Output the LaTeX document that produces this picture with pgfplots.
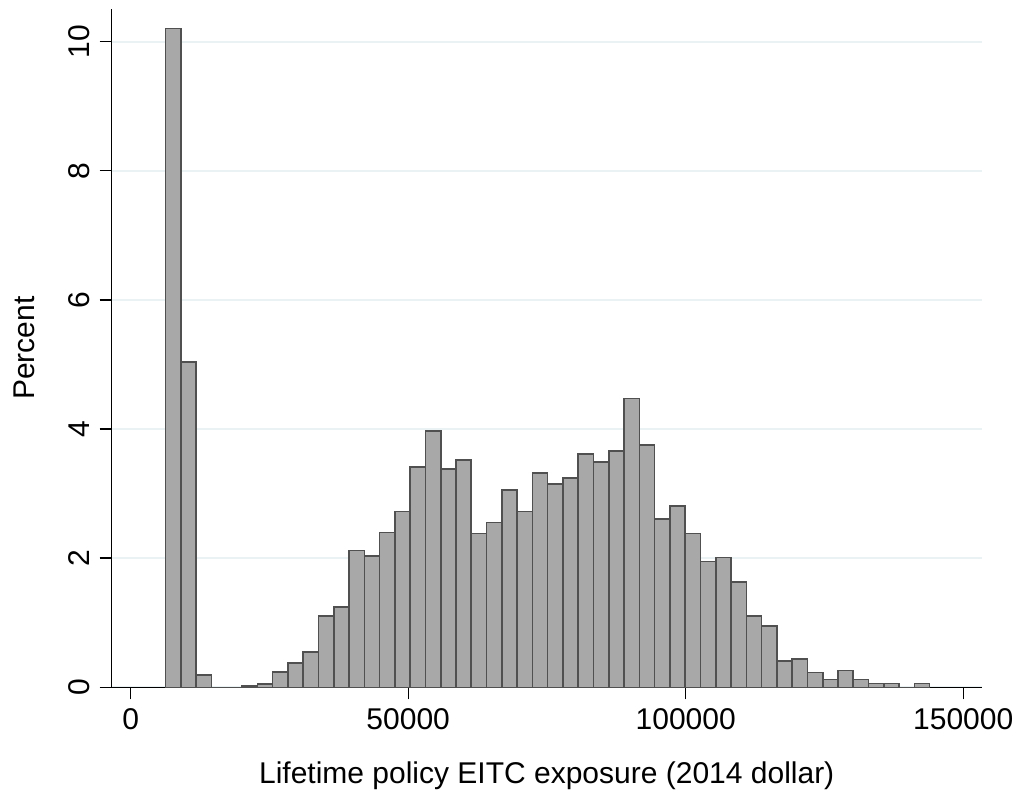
\documentclass[border=0pt]{standalone}
\usepackage{fontspec}
\setmainfont{Liberation Sans}
\usepackage{pgfplots}
\pgfplotsset{compat=1.18}
\definecolor{barfill}{RGB}{168,168,168}
\definecolor{baredge}{RGB}{80,80,80}
\definecolor{gridc}{RGB}{234,242,243}
\begin{document}
\begin{tikzpicture}
\useasboundingbox (-55.85pt,-52.35pt) rectangle (454.65pt,343.65pt);
\begin{axis}[
  at={(0pt,0pt)}, anchor=south west,
  scale only axis, width=435pt, height=339pt,
  xmin=-3423, xmax=153333, ymin=0, ymax=10.5,
  axis x line*=bottom, axis y line*=left,
  axis line style={-, line width=0.7pt, black},
  scaled x ticks=false, scaled y ticks=false,
  xtick={0,50000,100000,150000}, xticklabels={0,50000,100000,150000},
  ytick={0,2,4,6,8,10}, yticklabels={0,2,4,6,8,10},
  tick align=outside, major tick length=6pt,
  tick style={line width=0.7pt, black},
  ymajorgrids, grid style={gridc, line width=1pt},
  font=\fontsize{15}{18}\selectfont,
  yticklabel style={rotate=90, anchor=base},
  yticklabel shift=5pt,
  xticklabel style={anchor=north},
  xticklabel shift=1pt,
  xlabel={Lifetime policy EITC exposure (2014 dollar)},
  ylabel={Percent},
  every axis x label/.style={at={(axis description cs:0.5,-0.1412)}, anchor=base},
  every axis y label/.style={at={(axis description cs:-0.0893,0.5)}, rotate=90, anchor=base},
]
\addplot[ybar interval, fill=barfill, draw=baredge, line width=0.8pt] coordinates {
(6306,10.20) (9059,5.04) (11812,0.19) (14565,0) (17318,0) (20071,0.02)
(22824,0.05) (25577,0.24) (28330,0.38) (31083,0.55) (33836,1.10) (36589,1.24)
(39342,2.12) (42095,2.03) (44848,2.40) (47601,2.72) (50354,3.41) (53107,3.97)
(55860,3.38) (58613,3.52) (61366,2.38) (64119,2.55) (66872,3.06) (69625,2.72)
(72378,3.32) (75131,3.15) (77884,3.24) (80637,3.61) (83390,3.49) (86143,3.66)
(88896,4.47) (91649,3.75) (94402,2.61) (97155,2.81) (99908,2.38) (102661,1.95)
(105414,2.01) (108167,1.63) (110920,1.10) (113673,0.95) (116426,0.41) (119179,0.44)
(121932,0.23) (124685,0.12) (127438,0.26) (130191,0.12) (132944,0.057) (135697,0.057)
(138450,0) (141203,0.06) (143956,0)
};
\end{axis}
\end{tikzpicture}
\end{document}
